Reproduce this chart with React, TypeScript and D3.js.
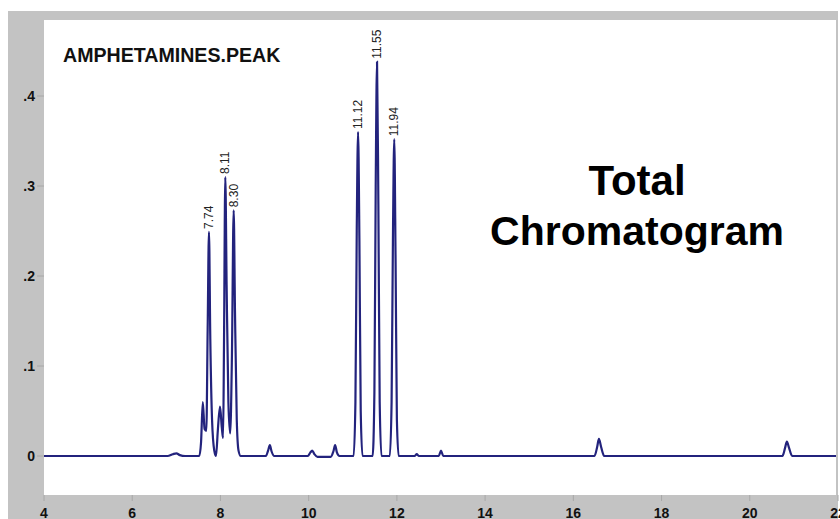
import React from 'react';
import * as d3 from 'd3';

// retention time (min), abundance
const trace: [number, number][] = [
  [4.0, 0], [6.8, 0], [6.92, 0.002], [7.0, 0.003], [7.08, 0.001], [7.2, 0],
  [7.52, 0], [7.56, 0.015], [7.6, 0.06], [7.64, 0.03], [7.68, 0.028], [7.71, 0.14],
  [7.74, 0.249], [7.77, 0.13], [7.81, 0.04], [7.86, 0.006], [7.9, 0.0], [7.94, 0.028],
  [7.99, 0.055], [8.03, 0.032], [8.06, 0.02], [8.08, 0.12], [8.11, 0.31], [8.14, 0.19],
  [8.18, 0.06], [8.22, 0.025], [8.26, 0.11], [8.3, 0.273], [8.33, 0.16], [8.37, 0.04],
  [8.41, 0.006], [8.46, 0], [9.03, 0], [9.08, 0.006], [9.12, 0.012], [9.16, 0.005],
  [9.22, 0], [9.98, 0], [10.04, 0.004], [10.08, 0.006], [10.13, 0.002], [10.2, -0.001],
  [10.5, -0.001], [10.56, 0.005], [10.6, 0.012], [10.64, 0.004], [10.7, 0],
  [11.02, 0], [11.06, 0.06], [11.09, 0.25], [11.12, 0.36], [11.15, 0.24], [11.18, 0.05],
  [11.22, 0], [11.45, 0], [11.49, 0.07], [11.52, 0.3], [11.55, 0.438], [11.58, 0.28],
  [11.61, 0.06], [11.65, 0], [11.84, 0], [11.88, 0.06], [11.91, 0.24], [11.94, 0.352],
  [11.97, 0.22], [12.0, 0.04], [12.04, 0], [12.4, 0], [12.45, 0.002], [12.5, 0],
  [12.95, 0], [13.0, 0.006], [13.05, 0], [16.48, 0], [16.54, 0.01], [16.58, 0.019],
  [16.63, 0.01], [16.7, 0], [20.74, 0], [20.8, 0.009], [20.84, 0.016], [20.89, 0.009],
  [20.96, 0], [22.0, 0]
];

const peakLabels = ['7.74', '8.11', '8.30', '11.12', '11.55', '11.94'];
const xTicks = [4, 6, 8, 10, 12, 14, 16, 18, 20, 22];
const yTicks = [0, 0.1, 0.2, 0.3, 0.4];
const yTickLabels = ['0', '.1', '.2', '.3', '.4'];
const title = 'AMPHETAMINES.PEAK';
const note = ['Total', 'Chromatogram'];

const W = 840;
const H = 519;
const FONT = "'Liberation Sans', Arial, Helvetica, sans-serif";

export default function App() {
  const plot = { left: 44, right: 836, top: 20, bottom: 495 };

  const x = d3.scaleLinear().domain([4, 22]).range([44, 838]);
  const y = d3.scaleLinear().domain([0, 0.4]).range([456, 96]);

  const line = d3
    .line<[number, number]>()
    .x((d) => x(d[0]))
    .y((d) => y(d[1]))
    .curve(d3.curveMonotoneX);

  return (
    <svg
      width={W}
      height={H}
      style={{ position: 'absolute', left: 0, top: 0, background: '#fff' }}
      fontFamily={FONT}
    >
      <rect x={8} y={11} width={830} height={H - 11} fill="#c3c3c3" />
      <rect x={plot.left} y={plot.top} width={plot.right - plot.left} height={plot.bottom - plot.top} fill="#fff" />

      {yTicks.map((t, i) => (
        <g key={'y' + i}>
          <line x1={37} x2={plot.left} y1={y(t)} y2={y(t)} stroke="#a8a8a8" />
          <text x={35} y={y(t)} dy="0.36em" textAnchor="end" fontSize={14} fontWeight="bold" fill="#111">
            {yTickLabels[i]}
          </text>
        </g>
      ))}

      {xTicks.map((t) => (
        <g key={'x' + t}>
          <line x1={x(t)} x2={x(t)} y1={plot.bottom} y2={plot.bottom + 6} stroke="#a8a8a8" />
          <text x={x(t)} y={518} textAnchor="middle" fontSize={14} fontWeight="bold" fill="#111">
            {t}
          </text>
        </g>
      ))}

      <clipPath id="plotclip">
        <rect x={plot.left} y={plot.top} width={plot.right - plot.left} height={plot.bottom - plot.top} />
      </clipPath>
      <path d={line(trace) ?? ''} fill="none" stroke="#23237d" strokeWidth={2.2} clipPath="url(#plotclip)" />

      {peakLabels.map((lbl) => {
        const p = trace.find((d) => d[0] === +lbl)!;
        const px = x(p[0]);
        const py = y(p[1]) - 3;
        return (
          <text
            key={lbl}
            transform={`translate(${px},${py}) rotate(-90)`}
            dy="0.35em"
            fontSize={12}
            fill="#222"
          >
            {lbl}
          </text>
        );
      })}

      <text x={63} y={62} fontSize={19.6} fontWeight="bold" fill="#111">
        {title}
      </text>
      <text x={637} y={195} textAnchor="middle" fontSize={42} fontWeight="bold" fill="#000">
        {note[0]}
      </text>
      <text x={637} y={245} textAnchor="middle" fontSize={41} fontWeight="bold" fill="#000">
        {note[1]}
      </text>
    </svg>
  );
}
